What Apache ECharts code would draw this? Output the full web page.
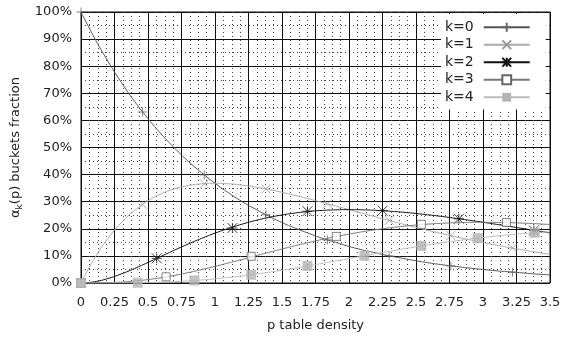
<!DOCTYPE html>
<html>
<head>
<meta charset="utf-8">
<script src="https://cdn.jsdelivr.net/npm/echarts@6/dist/echarts.min.js"></script>
<style>
  html, body { margin: 0; padding: 0; background: #fff; }
  #chart { width: 573px; height: 338px; }
</style>
</head>
<body>
<div id="chart"></div>
<script>
// sampled curve points (x = p table density)
const xs = [0, 0.1, 0.2, 0.3, 0.4, 0.5, 0.6, 0.7, 0.8, 0.9, 1.0, 1.1, 1.2, 1.3, 1.4, 1.5, 1.6, 1.7,
  1.8, 1.9, 2.0, 2.1, 2.2, 2.3, 2.4, 2.5, 2.6, 2.7, 2.8, 2.9, 3.0, 3.1, 3.2, 3.3, 3.4, 3.5];

const k0 = [1, .905, .819, .741, .670, .607, .549, .497, .449, .407, .368, .333, .301, .273, .247, .223, .202, .183,
  .165, .150, .135, .122, .111, .100, .091, .082, .074, .067, .061, .055, .050, .045, .041, .037, .033, .030];
const k1 = [0, .0905, .1637, .2222, .2681, .3033, .3293, .3476, .3595, .3659, .3679, .3662, .3614, .3543, .3452, .3347, .3230, .3106,
  .2975, .2842, .2707, .2572, .2438, .2306, .2177, .2052, .1931, .1815, .1703, .1596, .1494, .1397, .1304, .1217, .1135, .1057];
const k2 = [0, .0045, .0164, .0333, .0536, .0758, .0988, .1217, .1438, .1647, .1839, .2014, .2168, .2303, .2417, .2510, .2584, .2640,
  .2678, .2700, .2707, .2700, .2682, .2652, .2613, .2565, .2510, .2450, .2384, .2314, .2241, .2165, .2087, .2008, .1929, .1850];
const k3 = [0, .0002, .0011, .0033, .0072, .0126, .0198, .0284, .0383, .0494, .0613, .0738, .0867, .0998, .1128, .1255, .1378, .1496,
  .1607, .1710, .1804, .1890, .1967, .2033, .2090, .2138, .2176, .2205, .2225, .2237, .2241, .2237, .2226, .2209, .2186, .2158];
const k4 = [0, 0, .0001, .0003, .0007, .0016, .0030, .0050, .0077, .0111, .0153, .0203, .0260, .0324, .0395, .0471, .0551, .0636,
  .0723, .0812, .0902, .0992, .1082, .1169, .1254, .1336, .1414, .1488, .1557, .1622, .1680, .1733, .1781, .1823, .1858, .1888];

// point marks, as placed on each curve
const k0MarkX = [0, 0.46, 0.92, 1.38, 1.84, 2.30, 2.76, 3.22];
const k0MarkY = [1, .631, .399, .252, .159, .100, .063, .040];
const k1MarkX = [0, 0.46, 0.92, 1.38, 1.84, 2.30, 2.76, 3.22];
const k1MarkY = [0, .290, .366, .347, .292, .231, .175, .129];
const k2MarkX = [0, 0.565, 1.13, 1.69, 2.25, 2.82, 3.38];
const k2MarkY = [0, .091, .203, .265, .267, .237, .194];
const k3MarkX = [0, 0.635, 1.27, 1.905, 2.54, 3.175];
const k3MarkY = [0, .0227, .0985, .172, .2165, .2234];
const k4MarkX = [0, 0.423, 0.846, 1.27, 1.69, 2.115, 2.54, 2.96, 3.385];
const k4MarkY = [0, .0009, .0093, .0305, .0627, .1005, .1367, .1656, .1854];

const names = ['k=0', 'k=1', 'k=2', 'k=3', 'k=4'];
const font = 'DejaVu Sans';

const PLUS = 'path://M0,5L10,5M5,0L5,10';
const CROSS = 'path://M0,0L10,10M10,0L0,10';
const STAR = 'path://M0,5L10,5M5,0L5,10M0,0L10,10M10,0L0,10';

const styles = [
  { line: '#555', symbol: PLUS, size: 9, item: { color: 'transparent', borderColor: '#666', borderWidth: 1 } },
  { line: '#aaa', symbol: CROSS, size: 9, item: { color: 'transparent', borderColor: '#999', borderWidth: 1 } },
  { line: '#111', symbol: STAR, size: 10, item: { color: 'transparent', borderColor: '#111', borderWidth: 1 } },
  { line: '#777', symbol: 'rect', size: 8, item: { color: '#fff', borderColor: '#666', borderWidth: 1 } },
  { line: '#bbb', symbol: 'rect', size: 10, item: { color: '#b3b3b3', borderColor: '#b3b3b3', borderWidth: 0 } }
];

const curves = [k0, k1, k2, k3, k4];
const marksX = [k0MarkX, k1MarkX, k2MarkX, k3MarkX, k4MarkX];
const marksY = [k0MarkY, k1MarkY, k2MarkY, k3MarkY, k4MarkY];

const series = [];
curves.forEach((ys, i) => {
  const st = styles[i];
  series.push({
    name: names[i],
    type: 'line',
    smooth: true,
    showSymbol: false,
    symbol: st.symbol,
    symbolSize: st.size,
    itemStyle: st.item,
    lineStyle: { color: st.line, width: 1 },
    data: xs.map((x, j) => [x, ys[j]]),
    z: 2 + i
  });
  series.push({
    type: 'scatter',
    symbol: st.symbol,
    symbolSize: st.size,
    itemStyle: st.item,
    data: marksX[i].map((x, j) => [x, marksY[i][j]]),
    z: 2 + i,
    silent: true
  });
});

const chart = echarts.init(document.getElementById('chart'));
chart.setOption({
  animation: false,
  backgroundColor: '#fff',
  textStyle: { fontFamily: font },
  grid: {
    left: 81, right: 23, top: 12, bottom: 55,
    show: true, borderColor: '#111', borderWidth: 1
  },
  legend: {
    data: names,
    orient: 'vertical',
    left: 441,
    top: 14,
    align: 'right',
    itemWidth: 46,
    itemHeight: 11,
    itemGap: 1,
    padding: [5, 15, 4, 4],
    backgroundColor: '#fff',
    textStyle: { fontFamily: font, fontSize: 14, lineHeight: 16.5, color: '#222', padding: [0, 5, 0, 0] }
  },
  xAxis: {
    type: 'value',
    min: 0, max: 3.5, interval: 0.25,
    name: 'p table density',
    nameLocation: 'middle',
    nameGap: 36,
    nameTextStyle: { fontFamily: font, fontSize: 13, color: '#222' },
    axisLine: { show: false },
    axisTick: { show: false },
    axisLabel: {
      fontFamily: font, fontSize: 13, color: '#222', margin: 13,
      formatter: v => String(+v.toFixed(2))
    },
    splitLine: { show: true, lineStyle: { color: '#111', width: 1, type: 'solid' } },
    minorTick: { show: false, splitNumber: 4 },
    minorSplitLine: { show: true, lineStyle: { color: '#444', width: 1, type: [1, 3] } }
  },
  yAxis: {
    type: 'value',
    min: 0, max: 1, interval: 0.1,
    name: '{a|α}{b|k}{a|(p) buckets fraction}',
    nameLocation: 'middle',
    nameRotate: 90,
    nameGap: 55,
    nameTextStyle: {
      fontFamily: font, fontSize: 13, color: '#222',
      rich: {
        a: { fontFamily: font, fontSize: 13, color: '#222' },
        b: { fontFamily: font, fontSize: 9, color: '#222', padding: [7, 0, 0, 0] }
      }
    },
    axisLine: { show: false },
    axisTick: { show: false },
    axisLabel: {
      fontFamily: font, fontSize: 13, color: '#222', margin: 9,
      formatter: v => Math.round(v * 100) + '%'
    },
    splitLine: { show: true, lineStyle: { color: '#111', width: 1, type: 'solid' } },
    minorTick: { show: false, splitNumber: 2 },
    minorSplitLine: { show: true, lineStyle: { color: '#444', width: 1, type: [1, 3] } }
  },
  series: series
});
</script>
</body>
</html>
